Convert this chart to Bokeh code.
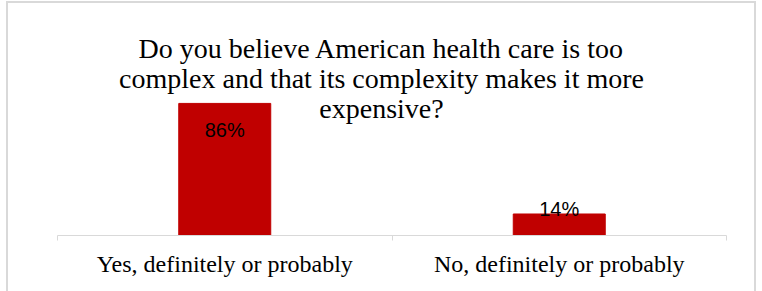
from bokeh.plotting import figure
from bokeh.models import FixedTicker, Label, ColumnDataSource, Range1d, LinearAxis, InlineStyleSheet
from bokeh.embed import file_html
from bokeh.resources import INLINE
from bokeh.core.properties import value

title_lines = ["Do you believe American health care is too",
               "complex and that its complexity makes it more",
               "expensive?"]
categories = ["Yes, definitely or probably", "No, definitely or probably"]
values = [86, 14]
value_labels = ["86%", "14%"]

xpos = [i + 0.5 for i in range(len(categories))]
bounds = [float(i) for i in range(len(categories) + 1)]

border_css = InlineStyleSheet(css="""
:host { position: relative; }
:host::after {
  content: "";
  position: absolute;
  left: 6px; top: 1px; width: 746px; height: 290px;
  border: 2px solid #d9d9d9; border-bottom: none;
  pointer-events: none; box-sizing: content-box;
}
""")

p = figure(width=762, height=291, output_backend="svg", toolbar_location=None,
           x_range=Range1d(0, len(categories)), y_range=Range1d(0, 153),
           min_border_left=57, min_border_right=36, min_border_top=0, min_border_bottom=56,
           x_axis_location=None, y_axis_location=None, stylesheets=[border_css])
p.outline_line_color = None
p.background_fill_color = "white"
p.border_fill_color = "white"
p.xgrid.visible = False
p.ygrid.visible = False

ax = LinearAxis(ticker=FixedTicker(ticks=xpos, minor_ticks=bounds),
                major_label_overrides={xp: c for xp, c in zip(xpos, categories)})
ax.axis_line_color = "#d9d9d9"
ax.axis_line_width = 1
ax.major_tick_line_color = None
ax.major_tick_in = 0
ax.major_tick_out = 0
ax.minor_tick_in = 0
ax.minor_tick_out = 5
ax.minor_tick_line_color = "#d9d9d9"
ax.major_label_standoff = 10
ax.major_label_text_font = "Liberation Serif"
ax.major_label_text_font_size = "24px"
ax.major_label_text_color = "black"
p.add_layout(ax, "below")

src = ColumnDataSource(dict(x=xpos, top=values, label=value_labels))
p.vbar(x="x", top="top", width=0.275, source=src, fill_color="#c00000", line_color="#c00000")

inside = ColumnDataSource(dict(x=[a for a, v in zip(xpos, values) if v >= 30],
                               y=[v for v in values if v >= 30],
                               t=[l for l, v in zip(value_labels, values) if v >= 30]))
outside = ColumnDataSource(dict(x=[a for a, v in zip(xpos, values) if v < 30],
                                y=[v for v in values if v < 30],
                                t=[l for l, v in zip(value_labels, values) if v < 30]))
p.text(x="x", y="y", text="t", source=inside, text_align="center", text_baseline="middle",
       y_offset=27, text_font=value("Liberation Sans"), text_font_size="20px", text_color="black")
p.text(x="x", y="y", text="t", source=outside, text_align="center", text_baseline="bottom",
       y_offset=6, text_font=value("Liberation Sans"), text_font_size="20px", text_color="black")

for i, line in enumerate(title_lines):
    p.add_layout(Label(x=324, y=187 - 30 * i, x_units="screen", y_units="screen", text=line,
                       text_align="center", text_baseline="alphabetic",
                       text_font="Liberation Serif", text_font_size="28px", text_color="black"))

open("out.html", "w").write(file_html(p, INLINE))
